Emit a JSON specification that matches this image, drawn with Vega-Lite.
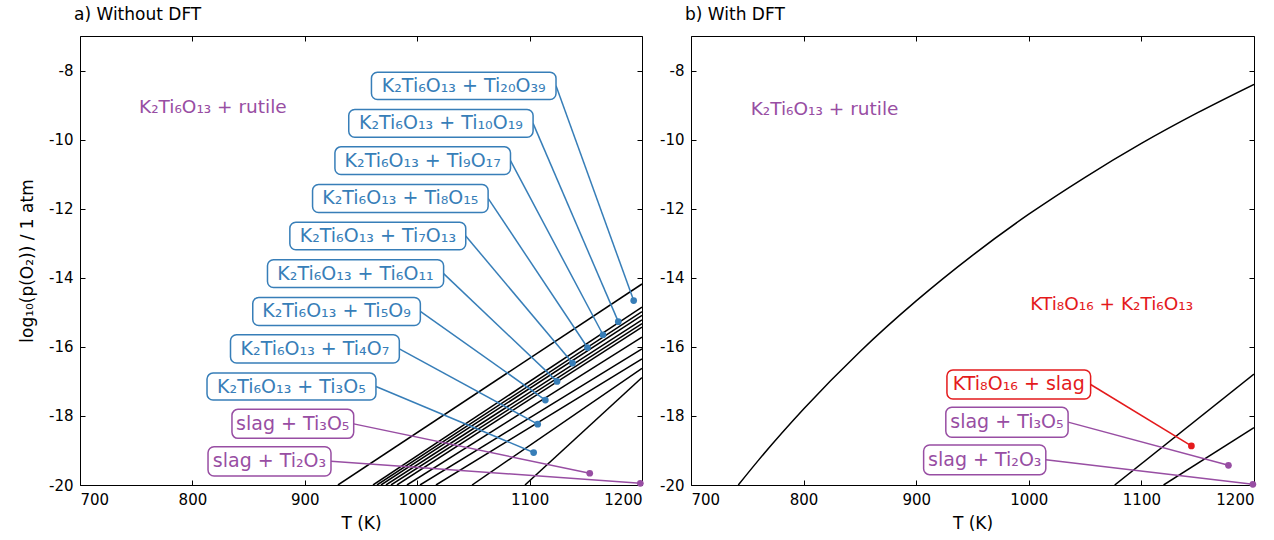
{
  "$schema": "https://vega.github.io/schema/vega-lite/v6.json",
  "padding": {"left": 18, "top": 5, "right": 16, "bottom": 2},
  "background": "white",
  "spacing": 14,
  "config": {
    "font": "DejaVu Sans",
    "view": {"stroke": "black", "strokeWidth": 1},
    "axis": {"domain": false, "grid": false, "ticks": true, "tickColor": "black", "tickSize": -5, "tickWidth": 1, "labelFont": "DejaVu Sans", "labelFontSize": 15, "labelColor": "black", "labelPadding": 12, "titleFont": "DejaVu Sans", "titleFontSize": 17, "titleFontWeight": "normal", "titleColor": "black", "labelExpr": "'' + datum.value"},
    "title": {"anchor": "start", "frame": "group", "font": "DejaVu Sans", "fontSize": 17, "fontWeight": "normal", "color": "black", "offset": 12, "dx": -6}
  },
  "datasets": {
    "lines": [
      {"panel": "a", "line": "L1", "T": 929.5, "v": -20}, {"panel": "a", "line": "L1", "T": 1200, "v": -14.18},
      {"panel": "a", "line": "L2", "T": 960.7, "v": -20}, {"panel": "a", "line": "L2", "T": 1200, "v": -14.85},
      {"panel": "a", "line": "L3", "T": 964.2, "v": -20}, {"panel": "a", "line": "L3", "T": 1200, "v": -14.98},
      {"panel": "a", "line": "L4", "T": 967.8, "v": -20}, {"panel": "a", "line": "L4", "T": 1200, "v": -15.09},
      {"panel": "a", "line": "L5", "T": 972.2, "v": -20}, {"panel": "a", "line": "L5", "T": 1200, "v": -15.22},
      {"panel": "a", "line": "L6", "T": 976.7, "v": -20}, {"panel": "a", "line": "L6", "T": 1200, "v": -15.33},
      {"panel": "a", "line": "L7", "T": 982.0, "v": -20}, {"panel": "a", "line": "L7", "T": 1200, "v": -15.43},
      {"panel": "a", "line": "L8", "T": 990.9, "v": -20}, {"panel": "a", "line": "L8", "T": 1200, "v": -15.72},
      {"panel": "a", "line": "L9", "T": 1002.5, "v": -20}, {"panel": "a", "line": "L9", "T": 1200, "v": -16.06},
      {"panel": "a", "line": "L10", "T": 1016.7, "v": -20}, {"panel": "a", "line": "L10", "T": 1200, "v": -16.35},
      {"panel": "a", "line": "L11", "T": 1048.8, "v": -20}, {"panel": "a", "line": "L11", "T": 1200, "v": -16.62},
      {"panel": "a", "line": "L12", "T": 1095.9, "v": -20}, {"panel": "a", "line": "L12", "T": 1200, "v": -16.89},
      {"panel": "b", "line": "B1", "T": 742, "v": -20}, {"panel": "b", "line": "B1", "T": 760, "v": -19.28},
      {"panel": "b", "line": "B1", "T": 800, "v": -17.8}, {"panel": "b", "line": "B1", "T": 850, "v": -16.14},
      {"panel": "b", "line": "B1", "T": 900, "v": -14.67}, {"panel": "b", "line": "B1", "T": 950, "v": -13.35},
      {"panel": "b", "line": "B1", "T": 1000, "v": -12.16}, {"panel": "b", "line": "B1", "T": 1050, "v": -11.09},
      {"panel": "b", "line": "B1", "T": 1100, "v": -10.11}, {"panel": "b", "line": "B1", "T": 1150, "v": -9.22},
      {"panel": "b", "line": "B1", "T": 1200, "v": -8.4},
      {"panel": "b", "line": "B2", "T": 1076.3, "v": -20}, {"panel": "b", "line": "B2", "T": 1200, "v": -16.79},
      {"panel": "b", "line": "B3", "T": 1119.7, "v": -20}, {"panel": "b", "line": "B3", "T": 1200, "v": -18.34}
    ],
    "labels": [
      {"panel": "a", "label": "K₂Ti₆O₁₃ + Ti₂₀O₃₉", "kind": "oxide", "x0": 959.3, "x1": 1123.5, "y0": -8.84, "y1": -8.05, "tx": 1041.4, "ty": -8.44, "dotT": 1192.6, "dotV": -14.66},
      {"panel": "a", "label": "K₂Ti₆O₁₃ + Ti₁₀O₁₉", "kind": "oxide", "x0": 939.1, "x1": 1103.1, "y0": -9.93, "y1": -9.13, "tx": 1021.1, "ty": -9.53, "dotT": 1178.9, "dotV": -15.27},
      {"panel": "a", "label": "K₂Ti₆O₁₃ + Ti₉O₁₇", "kind": "oxide", "x0": 926.8, "x1": 1083.0, "y0": -11.01, "y1": -10.21, "tx": 1004.9, "ty": -10.61, "dotT": 1165.3, "dotV": -15.65},
      {"panel": "a", "label": "K₂Ti₆O₁₃ + Ti₈O₁₅", "kind": "oxide", "x0": 906.9, "x1": 1063.1, "y0": -12.11, "y1": -11.30, "tx": 985.0, "ty": -11.70, "dotT": 1151.5, "dotV": -16.02},
      {"panel": "a", "label": "K₂Ti₆O₁₃ + Ti₇O₁₃", "kind": "oxide", "x0": 886.7, "x1": 1043.2, "y0": -13.19, "y1": -12.39, "tx": 965.0, "ty": -12.79, "dotT": 1138.2, "dotV": -16.47},
      {"panel": "a", "label": "K₂Ti₆O₁₃ + Ti₆O₁₁", "kind": "oxide", "x0": 866.8, "x1": 1023.5, "y0": -14.28, "y1": -13.48, "tx": 945.1, "ty": -13.88, "dotT": 1124.4, "dotV": -17.0},
      {"panel": "a", "label": "K₂Ti₆O₁₃ + Ti₅O₉", "kind": "oxide", "x0": 853.7, "x1": 1002.8, "y0": -15.38, "y1": -14.57, "tx": 928.2, "ty": -14.97, "dotT": 1114.0, "dotV": -17.54},
      {"panel": "a", "label": "K₂Ti₆O₁₃ + Ti₄O₇", "kind": "oxide", "x0": 833.9, "x1": 984.1, "y0": -16.47, "y1": -15.65, "tx": 909.0, "ty": -16.06, "dotT": 1107.2, "dotV": -18.24},
      {"panel": "a", "label": "K₂Ti₆O₁₃ + Ti₃O₅", "kind": "oxide", "x0": 813.0, "x1": 963.3, "y0": -17.54, "y1": -16.76, "tx": 888.1, "ty": -17.15, "dotT": 1103.6, "dotV": -19.06},
      {"panel": "a", "label": "slag + Ti₃O₅", "kind": "slag", "x0": 835.2, "x1": 943.5, "y0": -18.65, "y1": -17.81, "tx": 889.3, "ty": -18.23, "dotT": 1153.5, "dotV": -19.66},
      {"panel": "a", "label": "slag + Ti₂O₃", "kind": "slag", "x0": 813.9, "x1": 923.3, "y0": -19.74, "y1": -18.89, "tx": 868.6, "ty": -19.31, "dotT": 1198.5, "dotV": -19.95},
      {"panel": "b", "label": "KTi₈O₁₆ + slag", "kind": "hollandite", "x0": 927.3, "x1": 1054.9, "y0": -17.51, "y1": -16.67, "tx": 991.1, "ty": -17.09, "dotT": 1144.4, "dotV": -18.87},
      {"panel": "b", "label": "slag + Ti₃O₅", "kind": "slag", "x0": 926.3, "x1": 1034.9, "y0": -18.62, "y1": -17.75, "tx": 980.6, "ty": -18.18, "dotT": 1177.3, "dotV": -19.43},
      {"panel": "b", "label": "slag + Ti₂O₃", "kind": "slag", "x0": 906.6, "x1": 1015.1, "y0": -19.70, "y1": -18.84, "tx": 960.9, "ty": -19.27, "dotT": 1199.0, "dotV": -19.98}
    ],
    "regions": [
      {"panel": "a", "label": "K₂Ti₆O₁₃ + rutile", "kind": "rutile", "T": 752.5, "v": -9.07},
      {"panel": "b", "label": "K₂Ti₆O₁₃ + rutile", "kind": "rutile", "T": 753, "v": -9.12},
      {"panel": "b", "label": "KTi₈O₁₆ + K₂Ti₆O₁₃", "kind": "hollandite", "T": 1001.3, "v": -14.77}
    ]
  },
  "hconcat": [
    {
      "width": 562, "height": 449,
      "title": {"text": "a) Without DFT"},
      "resolve": {"axis": {"x": "independent", "y": "independent"}},
      "layer": [
        {
          "data": {"name": "lines"},
          "transform": [{"filter": "datum.panel === 'a'"}],
          "mark": {"type": "line", "color": "black", "strokeWidth": 1.5, "clip": true},
          "encoding": {
            "x": {"field": "T", "type": "quantitative", "scale": {"domain": [700, 1200], "nice": false, "zero": false}, "axis": {"orient": "bottom", "values": [700, 800, 900, 1000, 1100, 1200], "title": "T (K)", "titlePadding": 8}},
            "y": {"field": "v", "type": "quantitative", "scale": {"domain": [-20, -7], "nice": false, "zero": false}, "axis": {"orient": "left", "values": [-20, -18, -16, -14, -12, -10, -8], "title": "log₁₀(p(O₂)) / 1 atm", "titlePadding": 12}},
            "detail": {"field": "line"},
            "order": {"field": "T", "type": "quantitative"}
          }
        },
        {
          "data": {"name": "labels"},
          "transform": [{"filter": "datum.panel === 'a'"}],
          "mark": {"type": "rule", "strokeWidth": 1.5},
          "encoding": {
            "x": {"field": "x1", "type": "quantitative", "axis": {"orient": "top", "values": [700, 800, 900, 1000, 1100, 1200], "labels": false, "title": null}},
            "y": {"field": "ty", "type": "quantitative", "axis": {"orient": "right", "values": [-20, -18, -16, -14, -12, -10, -8], "labels": false, "title": null}},
            "x2": {"field": "dotT"},
            "y2": {"field": "dotV"},
            "color": {"field": "kind", "type": "nominal", "scale": {"domain": ["oxide", "slag", "rutile", "hollandite"], "range": ["#377eb8", "#984ea3", "#984ea3", "#e41a1c"]}, "legend": null}
          }
        },
        {
          "data": {"name": "labels"},
          "transform": [{"filter": "datum.panel === 'a'"}],
          "mark": {"type": "point", "filled": true, "size": 45, "opacity": 1},
          "encoding": {
            "x": {"field": "dotT", "type": "quantitative", "axis": null},
            "y": {"field": "dotV", "type": "quantitative", "axis": null},
            "color": {"field": "kind", "type": "nominal", "legend": null}
          }
        },
        {
          "data": {"name": "labels"},
          "transform": [{"filter": "datum.panel === 'a'"}],
          "mark": {"type": "rect", "fill": "white", "cornerRadius": 6, "strokeWidth": 1.5},
          "encoding": {
            "x": {"field": "x0", "type": "quantitative", "axis": null},
            "x2": {"field": "x1"},
            "y": {"field": "y0", "type": "quantitative", "axis": null},
            "y2": {"field": "y1"},
            "stroke": {"field": "kind", "type": "nominal", "scale": {"domain": ["oxide", "slag", "rutile", "hollandite"], "range": ["#377eb8", "#984ea3", "#984ea3", "#e41a1c"]}, "legend": null}
          }
        },
        {
          "data": {"name": "labels"},
          "transform": [{"filter": "datum.panel === 'a'"}],
          "mark": {"type": "text", "fontSize": 19, "align": "center", "baseline": "middle", "font": "DejaVu Sans"},
          "encoding": {
            "x": {"field": "tx", "type": "quantitative", "axis": null},
            "y": {"field": "ty", "type": "quantitative", "axis": null},
            "text": {"field": "label"},
            "color": {"field": "kind", "type": "nominal", "legend": null}
          }
        },
        {
          "data": {"name": "regions"},
          "transform": [{"filter": "datum.panel === 'a'"}],
          "mark": {"type": "text", "fontSize": 18.5, "align": "left", "baseline": "middle", "font": "DejaVu Sans"},
          "encoding": {
            "x": {"field": "T", "type": "quantitative", "axis": null},
            "y": {"field": "v", "type": "quantitative", "axis": null},
            "text": {"field": "label"},
            "color": {"field": "kind", "type": "nominal", "legend": null}
          }
        }
      ]
    },
    {
      "width": 563, "height": 449,
      "title": {"text": "b) With DFT"},
      "resolve": {"axis": {"x": "independent", "y": "independent"}},
      "layer": [
        {
          "data": {"name": "lines"},
          "transform": [{"filter": "datum.panel === 'b'"}],
          "mark": {"type": "line", "color": "black", "strokeWidth": 1.5, "clip": true, "interpolate": "monotone"},
          "encoding": {
            "x": {"field": "T", "type": "quantitative", "scale": {"domain": [700, 1200], "nice": false, "zero": false}, "axis": {"orient": "bottom", "values": [700, 800, 900, 1000, 1100, 1200], "title": "T (K)", "titlePadding": 8}},
            "y": {"field": "v", "type": "quantitative", "scale": {"domain": [-20, -7], "nice": false, "zero": false}, "axis": {"orient": "left", "values": [-20, -18, -16, -14, -12, -10, -8], "title": null}},
            "detail": {"field": "line"},
            "order": {"field": "T", "type": "quantitative"}
          }
        },
        {
          "data": {"name": "labels"},
          "transform": [{"filter": "datum.panel === 'b'"}],
          "mark": {"type": "rule", "strokeWidth": 1.5},
          "encoding": {
            "x": {"field": "x1", "type": "quantitative", "axis": {"orient": "top", "values": [700, 800, 900, 1000, 1100, 1200], "labels": false, "title": null}},
            "y": {"field": "ty", "type": "quantitative", "axis": {"orient": "right", "values": [-20, -18, -16, -14, -12, -10, -8], "labels": false, "title": null}},
            "x2": {"field": "dotT"},
            "y2": {"field": "dotV"},
            "color": {"field": "kind", "type": "nominal", "scale": {"domain": ["oxide", "slag", "rutile", "hollandite"], "range": ["#377eb8", "#984ea3", "#984ea3", "#e41a1c"]}, "legend": null}
          }
        },
        {
          "data": {"name": "labels"},
          "transform": [{"filter": "datum.panel === 'b'"}],
          "mark": {"type": "point", "filled": true, "size": 45, "opacity": 1},
          "encoding": {
            "x": {"field": "dotT", "type": "quantitative", "axis": null},
            "y": {"field": "dotV", "type": "quantitative", "axis": null},
            "color": {"field": "kind", "type": "nominal", "legend": null}
          }
        },
        {
          "data": {"name": "labels"},
          "transform": [{"filter": "datum.panel === 'b'"}],
          "mark": {"type": "rect", "fill": "white", "cornerRadius": 6, "strokeWidth": 1.5},
          "encoding": {
            "x": {"field": "x0", "type": "quantitative", "axis": null},
            "x2": {"field": "x1"},
            "y": {"field": "y0", "type": "quantitative", "axis": null},
            "y2": {"field": "y1"},
            "stroke": {"field": "kind", "type": "nominal", "scale": {"domain": ["oxide", "slag", "rutile", "hollandite"], "range": ["#377eb8", "#984ea3", "#984ea3", "#e41a1c"]}, "legend": null}
          }
        },
        {
          "data": {"name": "labels"},
          "transform": [{"filter": "datum.panel === 'b'"}],
          "mark": {"type": "text", "fontSize": 19, "align": "center", "baseline": "middle", "font": "DejaVu Sans"},
          "encoding": {
            "x": {"field": "tx", "type": "quantitative", "axis": null},
            "y": {"field": "ty", "type": "quantitative", "axis": null},
            "text": {"field": "label"},
            "color": {"field": "kind", "type": "nominal", "legend": null}
          }
        },
        {
          "data": {"name": "regions"},
          "transform": [{"filter": "datum.panel === 'b'"}],
          "mark": {"type": "text", "fontSize": 18.5, "align": "left", "baseline": "middle", "font": "DejaVu Sans"},
          "encoding": {
            "x": {"field": "T", "type": "quantitative", "axis": null},
            "y": {"field": "v", "type": "quantitative", "axis": null},
            "text": {"field": "label"},
            "color": {"field": "kind", "type": "nominal", "legend": null}
          }
        }
      ]
    }
  ]
}
